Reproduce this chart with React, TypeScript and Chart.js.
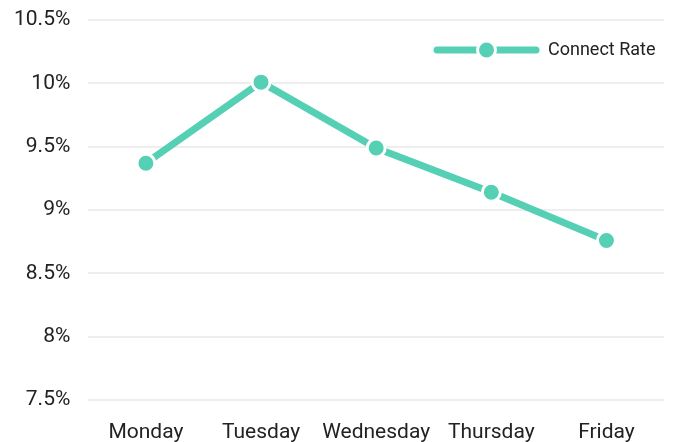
import React, { useEffect, useRef } from "react";
import { Chart, registerables } from "chart.js";

Chart.register(...registerables);

const categories = ["Monday", "Tuesday", "Wednesday", "Thursday", "Friday"];
const connectRate = [9.37, 10.01, 9.49, 9.14, 8.76];
const seriesLabel = "Connect Rate";
const yTicks = [7.5, 8, 8.5, 9, 9.5, 10, 10.5];

const COLOR = "#55D0B4";

const legendPlugin = {
  id: "customLegend",
  afterDraw(chart: any) {
    const ctx = chart.ctx;
    const y = 50;
    const x0 = 437;
    const x1 = 536;
    ctx.save();
    ctx.strokeStyle = COLOR;
    ctx.lineWidth = 7;
    ctx.lineCap = "round";
    ctx.beginPath();
    ctx.moveTo(x0, y);
    ctx.lineTo(x1, y);
    ctx.stroke();
    ctx.beginPath();
    ctx.arc((x0 + x1) / 2, y, 9, 0, Math.PI * 2);
    ctx.fillStyle = COLOR;
    ctx.fill();
    ctx.lineWidth = 3;
    ctx.strokeStyle = "#ffffff";
    ctx.stroke();
    ctx.fillStyle = "#222222";
    ctx.font = "18px Roboto";
    ctx.textBaseline = "middle";
    ctx.textAlign = "left";
    ctx.fillText(chart.data.datasets[0].label, 548, y);
    ctx.restore();
  },
};

export default function App() {
  const ref = useRef<HTMLCanvasElement>(null);
  useEffect(() => {
    if (!ref.current) return;
    const chart = new Chart(ref.current, {
      type: "line",
      data: {
        labels: categories,
        datasets: [
          {
            label: seriesLabel,
            data: connectRate,
            borderColor: COLOR,
            backgroundColor: COLOR,
            borderWidth: 7,
            pointRadius: 9,
            pointBorderWidth: 3,
            pointBorderColor: "#ffffff",
            pointBackgroundColor: COLOR,
            tension: 0,
          },
        ],
      },
      options: {
        animation: false,
        responsive: true,
        maintainAspectRatio: false,
        layout: { padding: { top: 0, right: 0, left: -4, bottom: -23 } },
        plugins: { legend: { display: false }, tooltip: { enabled: false } },
        scales: {
          x: {
            offset: true,
            afterFit: (scale: any) => {
              scale.paddingRight = 0;
              scale.paddingLeft = 0;
            },
            grid: { display: false, drawTicks: false },
            border: { display: false },
            ticks: {
              color: "#222222",
              font: { family: "Roboto", size: 21, lineHeight: 1 },
              padding: 22,
              maxRotation: 0,
            },
          },
          y: {
            min: 7.5,
            max: 10.5,
            afterBuildTicks: (axis: any) => {
              axis.ticks = yTicks.map((v) => ({ value: v }));
            },
            grid: { color: "#eeeeee", lineWidth: 2, drawTicks: true, tickLength: 0 },
            border: { display: false },
            ticks: {
              color: "#222222",
              font: { family: "Roboto", size: 21, lineHeight: 0.2 },
              padding: 18,
              callback: (v: any) => `${v}%`,
            },
          },
        },
      },
      plugins: [legendPlugin],
    });
    return () => chart.destroy();
  }, []);
  return (
    <div style={{ position: "fixed", left: 0, top: 0, width: 676, height: 442, background: "#fff" }}>
      <canvas ref={ref} />
    </div>
  );
}
